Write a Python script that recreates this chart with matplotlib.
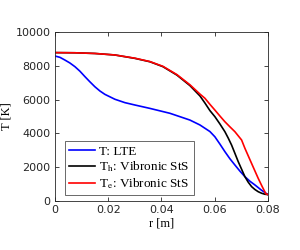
import matplotlib
matplotlib.use("Agg")
import matplotlib.pyplot as plt

# Data
r_lte = [0.0, 0.0019, 0.00376, 0.0056, 0.00751, 0.0094, 0.01127, 0.0131, 0.01502, 0.0169, 0.01878,
         0.02254, 0.02629, 0.03005, 0.03568, 0.04319, 0.0507, 0.05446, 0.05822, 0.06009,
         0.06197, 0.06385, 0.06573, 0.06761, 0.06948, 0.07136, 0.07324, 0.07512, 0.0775, 0.080]
T_lte = [8580, 8500, 8340, 8170, 7950, 7680, 7360, 7060, 6760, 6510, 6310,
         6020, 5820, 5680, 5480, 5190, 4790, 4500, 4110, 3800,
         3370, 2920, 2500, 2130, 1770, 1440, 1170, 950, 650, 380]

r_h = [0.0, 0.0075, 0.015, 0.02254, 0.03005, 0.03568, 0.04056, 0.04582, 0.0507, 0.05446,
       0.05634, 0.05822, 0.06009, 0.06197, 0.06385, 0.06511, 0.06636, 0.06761, 0.06885,
       0.07012, 0.07136, 0.07262, 0.07388, 0.07512, 0.07636, 0.07762, 0.07887, 0.080]
T_h = [8780, 8770, 8730, 8640, 8440, 8240, 7950, 7450, 6830, 6220,
       5800, 5350, 4990, 4560, 4100, 3720, 3310, 2820, 2330,
       1880, 1440, 1110, 850, 680, 550, 460, 400, 380]

r_e = [0.0, 0.0075, 0.015, 0.02254, 0.03005, 0.03568, 0.04056, 0.04582, 0.0507, 0.05446,
       0.05634, 0.05822, 0.06009, 0.06197, 0.06385, 0.06573, 0.06761, 0.07012, 0.07136,
       0.07262, 0.07388, 0.07512, 0.07636, 0.07780, 0.07925, 0.080]
T_e = [8780, 8770, 8730, 8640, 8450, 8250, 7970, 7480, 6880, 6330,
       6080, 5720, 5380, 5030, 4690, 4390, 4100, 3610, 3120,
       2670, 2220, 1780, 1340, 870, 420, 380]

labels = [r"T: LTE", r"T$_\mathrm{h}$: Vibronic StS", r"T$_\mathrm{e}$: Vibronic StS"]
colors = ["#0000ff", "#000000", "#ff0000"]

xticks = [0, 0.02, 0.04, 0.06, 0.08]
xticklabels = ["0", "0.02", "0.04", "0.06", "0.08"]
yticks = [0, 2000, 4000, 6000, 8000, 10000]

plt.rcParams['mathtext.fontset'] = 'stix'
serif = ['Liberation Serif', 'DejaVu Serif']

fig = plt.figure(figsize=(3.0, 2.5), dpi=100)
ax = fig.add_axes([0.183, 0.196, 0.710, 0.676])

for x, y, c, lab in zip([r_lte, r_h, r_e], [T_lte, T_h, T_e], colors, labels):
    ax.plot(x, y, color=c, lw=1.2, label=lab)

ax.set_xlim(0, 0.08)
ax.set_ylim(0, 10000)
ax.set_xticks(xticks)
ax.set_xticklabels(xticklabels)
ax.set_yticks(yticks)
ax.tick_params(direction='in', top=True, right=True, labelsize=8, colors='#262626',
               length=3, width=0.6, pad=3)
for s in ax.spines.values():
    s.set_color('#262626')
    s.set_linewidth(0.6)

ax.set_xlabel("r [m]", fontsize=9, family=serif, labelpad=2)
ax.set_ylabel("T [K]", fontsize=9, family=serif, labelpad=2)

leg = ax.legend(loc='lower left', bbox_to_anchor=(0.047, 0.035), prop={'family': serif, 'size': 9.5},
                frameon=True, fancybox=False, edgecolor='#262626', handlelength=2.0,
                handletextpad=0.3, borderpad=0.3, labelspacing=0.15, borderaxespad=0)
leg.get_frame().set_linewidth(0.6)

fig.savefig("out.png", dpi=100)
